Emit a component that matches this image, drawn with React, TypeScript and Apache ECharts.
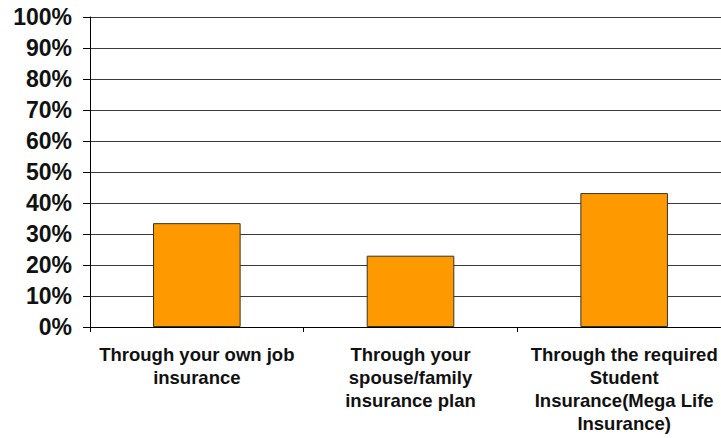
import React, { useEffect, useRef } from "react";
import * as echarts from "echarts";

const categories = [
  "Through your own job\ninsurance",
  "Through your\nspouse/family\ninsurance plan",
  "Through the required\nStudent\nInsurance(Mega Life\nInsurance)",
];
const values = [33.5, 23.0, 43.2];
const yTicks = { min: 0, max: 100, interval: 10 };

export default function App() {
  const ref = useRef<HTMLDivElement>(null);
  useEffect(() => {
    document.body.style.margin = "0";
    const chart = echarts.init(ref.current!, null, { renderer: "svg" });
    const font = "'Liberation Sans', Arial, sans-serif";
    chart.setOption({
      animation: false,
      backgroundColor: "#ffffff",
      grid: {
        left: 90,
        top: 17,
        height: 310,
        width: 641,
        containLabel: false,
        outerBoundsMode: "none",
      },
      xAxis: {
        type: "category",
        data: categories,
        axisLine: { lineStyle: { color: "#000", width: 1 } },
        axisTick: { show: true, length: 5, lineStyle: { color: "#000" } },
        axisLabel: {
          interval: 0,
          margin: 16,
          color: "#111",
          fontFamily: font,
          fontWeight: "bold",
          fontSize: 18.5,
          lineHeight: 23,
          align: "center",
        },
      },
      yAxis: {
        type: "value",
        min: yTicks.min,
        max: yTicks.max,
        interval: yTicks.interval,
        axisLine: { show: true, lineStyle: { color: "#000", width: 1 } },
        axisTick: { show: true, length: 7, lineStyle: { color: "#000" } },
        splitLine: { show: true, lineStyle: { color: "#3a3a3a", width: 1 } },
        axisLabel: {
          margin: 18,
          color: "#111",
          fontFamily: font,
          fontWeight: "bold",
          fontSize: 23,
          formatter: (v: number) => `${v}%`,
        },
      },
      series: [
        {
          type: "bar",
          data: values,
          barWidth: "41%",
          itemStyle: { color: "#FF9900", borderColor: "#333", borderWidth: 1 },
        },
      ],
    });
    return () => chart.dispose();
  }, []);
  return <div ref={ref} style={{ width: 721, height: 438 }} />;
}
